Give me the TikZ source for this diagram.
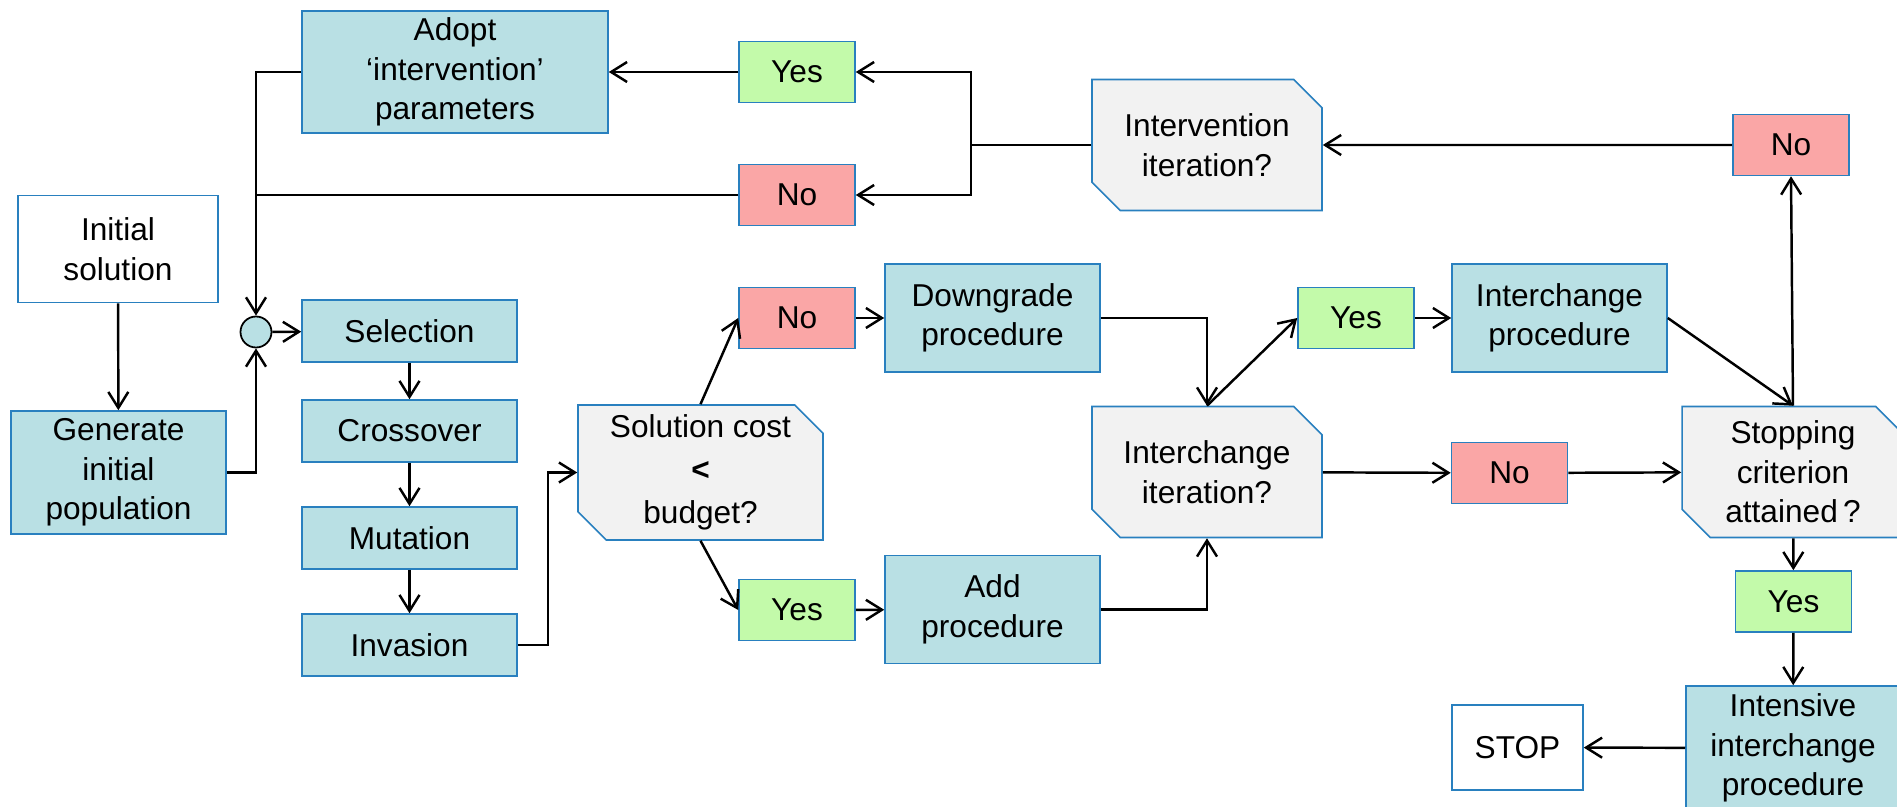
\documentclass[tikz,border=0pt]{standalone}
\usepackage{fontspec}
\setmainfont{Liberation Sans}
\usepackage{tikz}
\usetikzlibrary{arrows.meta,shapes.misc}
\definecolor{proc blue}{rgb}{0.7255, 0.8784, 0.8941}
\definecolor{edge blue}{rgb}{0.1600, 0.5000, 0.7500}
\definecolor{no pink}{rgb}{0.9800, 0.6510, 0.6510}
\definecolor{yes green}{rgb}{0.7650, 0.9800, 0.6670}
\definecolor{query grey}{rgb}{0.9490, 0.9490, 0.9490}
\tikzset{
	plainbox/.style = {draw=edge blue, line width=0.9pt, align=center, inner sep=2pt, font=\fontsize{18}{22.5}\selectfont},
	procbox/.style = {plainbox, fill=proc blue},
	startbox/.style = {plainbox, fill=white},
	yesbox/.style = {plainbox, fill=yes green, minimum width=2.32cm, minimum height=1.22cm},
	nobox/.style = {plainbox, fill=no pink, minimum width=2.32cm, minimum height=1.22cm},
	querybox/.style = {plainbox, fill=query grey, chamfered rectangle, chamfered rectangle corners={north east, south west}, chamfered rectangle xsep=0.44cm, minimum width=4.6cm, minimum height=2.62cm},
	flow/.style = {line width=1.4pt, -{Straight Barb[length=0.32cm, width=0.4cm]}}
}

\begin{document}
\begin{tikzpicture}[x=0.02cm, y=-0.02cm]
		\useasboundingbox (0, 0) rectangle (1897, 807);
		% start and genetic loop
		\node[startbox, minimum width=4cm, minimum height=2.14cm] (init) at (118, 249) {Initial\\solution};
		\node[procbox, minimum width=4.3cm, minimum height=2.46cm] (gen) at (118.5, 472.5) {Generate\\initial\\population};
		\node[circle, draw, fill=proc blue, line width=1pt, minimum size=0.62cm, inner sep=0pt] (merge) at (256, 332) {};
		\node[procbox, minimum width=4.3cm, minimum height=1.24cm] (sel) at (409.5, 331) {Selection};
		\node[procbox, minimum width=4.3cm, minimum height=1.24cm] (cross) at (409.5, 431) {Crossover};
		\node[procbox, minimum width=4.3cm, minimum height=1.24cm] (mut) at (409.5, 538) {Mutation};
		\node[procbox, minimum width=4.3cm, minimum height=1.24cm] (inv) at (409.5, 645) {Invasion};
		% budget check
		\node[querybox, minimum width=4.9cm] (cost) at (700.5, 472.5) {Solution cost\\[2pt]{\bfseries <}\\[2pt]budget?};
		\node[nobox] (no2) at (797, 318) {No};
		\node[yesbox] (yes2) at (797, 610) {Yes};
		\node[procbox, minimum width=4.3cm, minimum height=2.16cm] (down) at (992.5, 318) {Downgrade\\procedure};
		\node[procbox, minimum width=4.3cm, minimum height=2.16cm] (add) at (992.5, 609.5) {Add\\procedure};
		% interchange
		\node[querybox] (inter) at (1207, 472) {Interchange\\iteration?};
		\node[yesbox] (yes3) at (1356, 318) {Yes};
		\node[procbox, minimum width=4.3cm, minimum height=2.16cm] (ichg) at (1559.5, 318) {Interchange\\procedure};
		\node[nobox] (no3) at (1509.5, 473) {No};
		\node[querybox, minimum width=4.44cm] (stopq) at (1793, 472) {Stopping\\criterion\\attained\,?};
		\node[yesbox] (yes4) at (1793.5, 601.5) {Yes};
		\node[procbox, minimum width=4.28cm, minimum height=2.48cm] (intens) at (1793, 748) {Intensive\\interchange\\procedure};
		\node[startbox, minimum width=2.62cm, minimum height=1.7cm] (stop) at (1517.5, 747.5) {STOP};
		% intervention
		\node[nobox] (no4) at (1791, 145) {No};
		\node[querybox] (interv) at (1207, 145) {Intervention\\iteration?};
		\node[yesbox] (yes1) at (797, 72) {Yes};
		\node[nobox] (no1) at (797, 195) {No};
		\node[procbox, minimum width=6.12cm, minimum height=2.44cm] (adopt) at (455, 72) {Adopt\\‘intervention’\\parameters};
		\coordinate (split) at (971, 145);
		% connectors
		\draw[flow] (init) -- (gen);
		\draw[flow] (gen.east) -| (merge.south);
		\draw[flow] (adopt.west) -| (merge.north);
		\draw[line width=1.4pt] (no1.west) -- (no1.west -| merge);
		\draw[flow] (merge) -- (sel);
		\draw[flow] (sel) -- (cross);
		\draw[flow] (cross) -- (mut);
		\draw[flow] (mut) -- (inv);
		\draw[flow] (inv.east) -- ++(30, 0) |- (cost.west);
		\draw[flow] (cost.north) -- (no2.west);
		\draw[flow] (cost.south) -- (yes2.west);
		\draw[flow] (no2) -- (down);
		\draw[flow] (yes2) -- (add);
		\draw[flow] (down.east) -| (inter.north);
		\draw[flow] (add.east) -| (inter.south);
		\draw[flow] (inter.north) -- (yes3.west);
		\draw[flow] (yes3) -- (ichg);
		\draw[flow] (inter) -- (no3);
		\draw[flow] (no3) -- (stopq);
		\draw[flow] (ichg.east) -- (stopq.north);
		\draw[flow] (stopq.north) -- (no4.south);
		\draw[flow] (no4) -- (interv);
		\draw[line width=1.4pt] (interv.west) -- (split);
		\draw[flow] (split) |- (yes1.east);
		\draw[flow] (split) |- (no1.east);
		\draw[flow] (yes1) -- (adopt);
		\draw[flow] (stopq) -- (yes4);
		\draw[flow] (yes4) -- (intens);
		\draw[flow] (intens) -- (stop);
	\end{tikzpicture}
\end{document}
